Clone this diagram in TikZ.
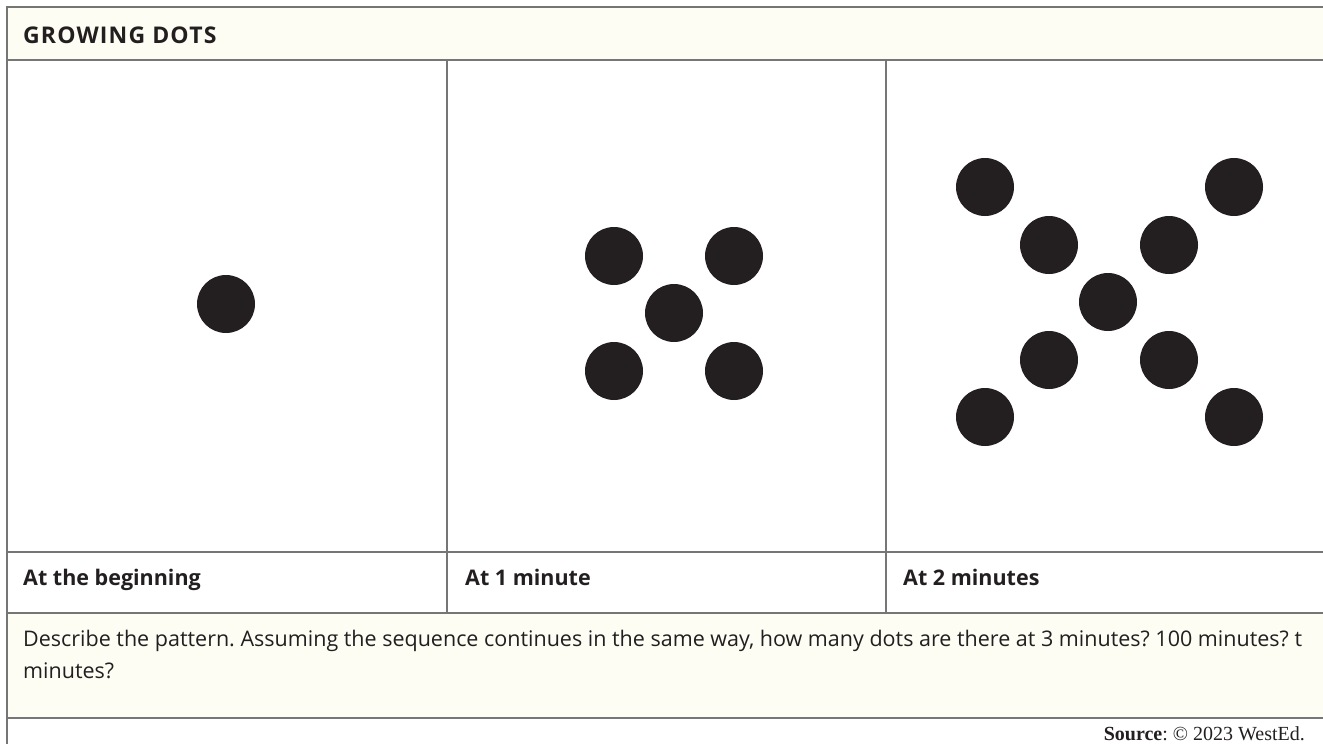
\documentclass[tikz,border=0pt]{standalone}
\usepackage{fontspec}
\setmainfont{Liberation Serif}
\newfontfamily\tabfont{Open Sans}
\usetikzlibrary{positioning}
\definecolor{cream}{RGB}{253,253,244}
\definecolor{rulegray}{RGB}{118,118,118}
\definecolor{ink}{RGB}{35,31,32}
\frenchspacing
\tikzset{dot/.style={circle,fill=ink,minimum size=58pt,inner sep=0pt},
  cell/.style={anchor=base west,inner sep=0pt,text=ink,font=\tabfont\fontsize{21.5}{26}\selectfont\bfseries},
  task/.style={anchor=base west,inner sep=0pt,text=ink,font=\tabfont\fontsize{21.5}{26}\selectfont}}

\begin{document}
\begin{tikzpicture}[x=1pt,y=-1pt]
\useasboundingbox (0,0) rectangle (1323,744);
\fill[cream] (7,7) rectangle (1323,60);\fill[cream] (7,613) rectangle (1323,718);
\draw[rulegray,line width=1.5pt] (1323,7)--(7,7)--(7,744);
\draw[rulegray,line width=1.5pt] (7,60)--(1323,60) (7,552)--(1323,552) (7,613)--(1323,613) (7,718)--(1323,718);
\draw[rulegray,line width=1.5pt] (447,60)--(447,613) (886,60)--(886,613);
\node[cell,font=\tabfont\fontsize{23}{26}\selectfont\bfseries\addfontfeature{LetterSpace=5}] (title) at (23,43){GROWING DOTS};
% dots
\node[dot] (a0) at (226,304){};
\node[dot] (b0) at (674,313){};
\node[dot] (b1) at (614,256){};\node[dot] (b2) at (734,256){};\node[dot] (b3) at (614,371){};\node[dot] (b4) at (734,371){};
\node[dot] (c0) at (1108,302){};
\node[dot] (c1) at (1049,245){};\node[dot] (c2) at (1169,245){};\node[dot] (c3) at (1049,360){};\node[dot] (c4) at (1169,360){};
\node[dot] (c5) at (985,187){};\node[dot] (c6) at (1234,187){};\node[dot] (c7) at (985,417){};\node[dot] (c8) at (1234,417){};
% labels
\node[cell] (lab1) at (23,585){At the beginning};
\node[cell] (lab2) at (465,585){At 1 minute};
\node[cell] (lab3) at (903,585){At 2 minutes};
\node[task] (ask1) at (23,646){Describe the pattern. Assuming the sequence continues in the same way, how many dots are there at 3 minutes? 100 minutes? t};
\node[task] (ask2) at (23,678){minutes?};
\node[anchor=base east,inner sep=0pt,text=ink,font=\fontsize{20}{23}\selectfont] (src) at (1305,740){\textbf{Source}: © 2023 WestEd.};
\end{tikzpicture}
\end{document}
